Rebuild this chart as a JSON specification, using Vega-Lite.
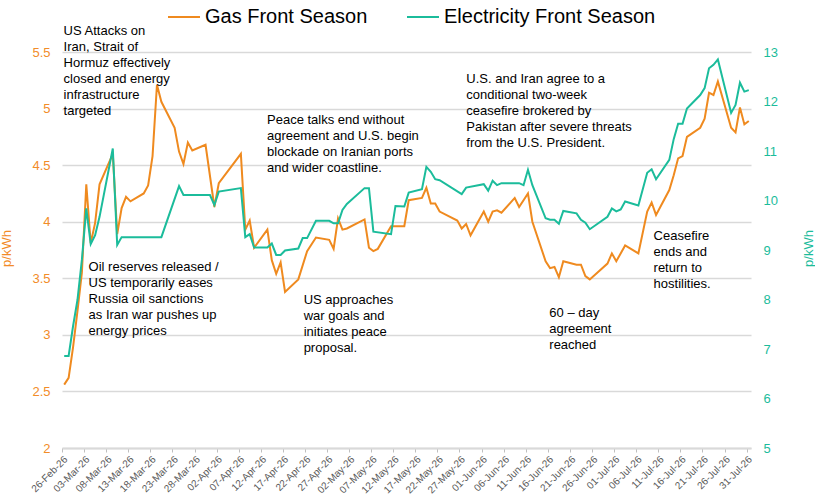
{
  "$schema": "https://vega.github.io/schema/vega-lite/v6.json",
  "autosize": "none",
  "width": 689,
  "height": 396,
  "padding": {"left": 62, "top": 52, "right": 64, "bottom": 50},
  "datasets": {
    "gas": [
      {"date": "2026-02-26T12:00:00", "value": 2.56},
      {"date": "2026-02-27T12:00:00", "value": 2.62},
      {"date": "2026-02-28T12:00:00", "value": 2.89},
      {"date": "2026-03-01T12:00:00", "value": 3.21},
      {"date": "2026-03-02T12:00:00", "value": 3.55},
      {"date": "2026-03-03T12:00:00", "value": 4.33},
      {"date": "2026-03-04T12:00:00", "value": 3.81},
      {"date": "2026-03-05T12:00:00", "value": 3.99},
      {"date": "2026-03-06T12:00:00", "value": 4.33},
      {"date": "2026-03-09T12:00:00", "value": 4.60},
      {"date": "2026-03-10T12:00:00", "value": 3.89},
      {"date": "2026-03-11T12:00:00", "value": 4.12},
      {"date": "2026-03-12T12:00:00", "value": 4.22},
      {"date": "2026-03-13T12:00:00", "value": 4.18},
      {"date": "2026-03-16T12:00:00", "value": 4.25},
      {"date": "2026-03-17T12:00:00", "value": 4.32},
      {"date": "2026-03-18T12:00:00", "value": 4.58},
      {"date": "2026-03-19T12:00:00", "value": 5.21},
      {"date": "2026-03-20T12:00:00", "value": 5.06},
      {"date": "2026-03-23T12:00:00", "value": 4.83},
      {"date": "2026-03-24T12:00:00", "value": 4.62},
      {"date": "2026-03-25T12:00:00", "value": 4.51},
      {"date": "2026-03-26T12:00:00", "value": 4.70},
      {"date": "2026-03-27T12:00:00", "value": 4.63},
      {"date": "2026-03-30T12:00:00", "value": 4.68},
      {"date": "2026-04-01T12:00:00", "value": 4.13},
      {"date": "2026-04-02T12:00:00", "value": 4.34},
      {"date": "2026-04-07T12:00:00", "value": 4.60},
      {"date": "2026-04-08T12:00:00", "value": 3.93},
      {"date": "2026-04-09T12:00:00", "value": 4.01},
      {"date": "2026-04-10T12:00:00", "value": 3.77},
      {"date": "2026-04-13T12:00:00", "value": 3.93},
      {"date": "2026-04-14T12:00:00", "value": 3.66},
      {"date": "2026-04-15T12:00:00", "value": 3.54},
      {"date": "2026-04-16T12:00:00", "value": 3.64},
      {"date": "2026-04-17T12:00:00", "value": 3.38},
      {"date": "2026-04-20T12:00:00", "value": 3.49},
      {"date": "2026-04-22T12:00:00", "value": 3.74},
      {"date": "2026-04-24T12:00:00", "value": 3.86},
      {"date": "2026-04-27T12:00:00", "value": 3.84},
      {"date": "2026-04-28T12:00:00", "value": 3.76},
      {"date": "2026-04-29T12:00:00", "value": 4.03},
      {"date": "2026-04-30T12:00:00", "value": 3.93},
      {"date": "2026-05-01T12:00:00", "value": 3.94},
      {"date": "2026-05-05T12:00:00", "value": 4.02},
      {"date": "2026-05-06T12:00:00", "value": 3.77},
      {"date": "2026-05-07T12:00:00", "value": 3.74},
      {"date": "2026-05-08T12:00:00", "value": 3.76},
      {"date": "2026-05-11T12:00:00", "value": 3.96},
      {"date": "2026-05-12T12:00:00", "value": 3.96},
      {"date": "2026-05-14T12:00:00", "value": 3.96},
      {"date": "2026-05-15T12:00:00", "value": 4.19},
      {"date": "2026-05-18T12:00:00", "value": 4.21},
      {"date": "2026-05-19T12:00:00", "value": 4.30},
      {"date": "2026-05-20T12:00:00", "value": 4.16},
      {"date": "2026-05-21T12:00:00", "value": 4.16},
      {"date": "2026-05-22T12:00:00", "value": 4.09},
      {"date": "2026-05-26T12:00:00", "value": 4.01},
      {"date": "2026-05-27T12:00:00", "value": 3.94},
      {"date": "2026-05-28T12:00:00", "value": 3.98},
      {"date": "2026-05-29T12:00:00", "value": 3.88},
      {"date": "2026-06-01T12:00:00", "value": 4.09},
      {"date": "2026-06-02T12:00:00", "value": 4.00},
      {"date": "2026-06-03T12:00:00", "value": 4.09},
      {"date": "2026-06-04T12:00:00", "value": 4.10},
      {"date": "2026-06-05T12:00:00", "value": 4.08},
      {"date": "2026-06-08T12:00:00", "value": 4.21},
      {"date": "2026-06-09T12:00:00", "value": 4.13},
      {"date": "2026-06-11T12:00:00", "value": 4.25},
      {"date": "2026-06-12T12:00:00", "value": 4.00},
      {"date": "2026-06-15T12:00:00", "value": 3.65},
      {"date": "2026-06-16T12:00:00", "value": 3.59},
      {"date": "2026-06-17T12:00:00", "value": 3.60},
      {"date": "2026-06-18T12:00:00", "value": 3.51},
      {"date": "2026-06-19T12:00:00", "value": 3.65},
      {"date": "2026-06-22T12:00:00", "value": 3.62},
      {"date": "2026-06-23T12:00:00", "value": 3.62},
      {"date": "2026-06-24T12:00:00", "value": 3.52},
      {"date": "2026-06-25T12:00:00", "value": 3.49},
      {"date": "2026-06-29T12:00:00", "value": 3.63},
      {"date": "2026-06-30T12:00:00", "value": 3.72},
      {"date": "2026-07-01T12:00:00", "value": 3.65},
      {"date": "2026-07-03T12:00:00", "value": 3.79},
      {"date": "2026-07-06T12:00:00", "value": 3.72},
      {"date": "2026-07-08T12:00:00", "value": 4.09},
      {"date": "2026-07-09T12:00:00", "value": 4.17},
      {"date": "2026-07-10T12:00:00", "value": 4.06},
      {"date": "2026-07-13T12:00:00", "value": 4.28},
      {"date": "2026-07-14T12:00:00", "value": 4.41},
      {"date": "2026-07-15T12:00:00", "value": 4.56},
      {"date": "2026-07-16T12:00:00", "value": 4.58},
      {"date": "2026-07-17T12:00:00", "value": 4.75},
      {"date": "2026-07-20T12:00:00", "value": 4.83},
      {"date": "2026-07-21T12:00:00", "value": 4.91},
      {"date": "2026-07-22T12:00:00", "value": 5.14},
      {"date": "2026-07-23T12:00:00", "value": 5.12},
      {"date": "2026-07-24T12:00:00", "value": 5.24},
      {"date": "2026-07-27T12:00:00", "value": 4.83},
      {"date": "2026-07-28T12:00:00", "value": 4.79},
      {"date": "2026-07-29T12:00:00", "value": 5.01},
      {"date": "2026-07-30T12:00:00", "value": 4.86},
      {"date": "2026-07-31T12:00:00", "value": 4.89}
    ],
    "electricity": [
      {"date": "2026-02-26T12:00:00", "value": 6.86},
      {"date": "2026-02-27T12:00:00", "value": 6.86},
      {"date": "2026-02-28T12:00:00", "value": 7.46},
      {"date": "2026-03-01T12:00:00", "value": 7.99},
      {"date": "2026-03-02T12:00:00", "value": 8.80},
      {"date": "2026-03-03T12:00:00", "value": 9.84},
      {"date": "2026-03-04T12:00:00", "value": 9.12},
      {"date": "2026-03-05T12:00:00", "value": 9.30},
      {"date": "2026-03-06T12:00:00", "value": 9.67},
      {"date": "2026-03-09T12:00:00", "value": 11.05},
      {"date": "2026-03-10T12:00:00", "value": 9.10},
      {"date": "2026-03-11T12:00:00", "value": 9.26},
      {"date": "2026-03-20T12:00:00", "value": 9.26},
      {"date": "2026-03-24T12:00:00", "value": 10.29},
      {"date": "2026-03-25T12:00:00", "value": 10.11},
      {"date": "2026-03-31T12:00:00", "value": 10.11},
      {"date": "2026-04-01T12:00:00", "value": 9.91},
      {"date": "2026-04-02T12:00:00", "value": 10.18},
      {"date": "2026-04-07T12:00:00", "value": 10.25},
      {"date": "2026-04-08T12:00:00", "value": 9.26},
      {"date": "2026-04-09T12:00:00", "value": 9.32},
      {"date": "2026-04-10T12:00:00", "value": 9.05},
      {"date": "2026-04-13T12:00:00", "value": 9.05},
      {"date": "2026-04-14T12:00:00", "value": 9.13},
      {"date": "2026-04-15T12:00:00", "value": 8.90},
      {"date": "2026-04-16T12:00:00", "value": 8.90},
      {"date": "2026-04-17T12:00:00", "value": 8.99},
      {"date": "2026-04-20T12:00:00", "value": 9.03},
      {"date": "2026-04-21T12:00:00", "value": 9.24},
      {"date": "2026-04-22T12:00:00", "value": 9.24},
      {"date": "2026-04-24T12:00:00", "value": 9.59},
      {"date": "2026-04-27T12:00:00", "value": 9.59},
      {"date": "2026-04-28T12:00:00", "value": 9.54},
      {"date": "2026-04-29T12:00:00", "value": 9.54},
      {"date": "2026-04-30T12:00:00", "value": 9.81},
      {"date": "2026-05-01T12:00:00", "value": 9.93},
      {"date": "2026-05-05T12:00:00", "value": 10.25},
      {"date": "2026-05-06T12:00:00", "value": 10.25},
      {"date": "2026-05-07T12:00:00", "value": 9.37},
      {"date": "2026-05-11T12:00:00", "value": 9.32},
      {"date": "2026-05-12T12:00:00", "value": 9.89},
      {"date": "2026-05-14T12:00:00", "value": 9.88},
      {"date": "2026-05-15T12:00:00", "value": 10.16},
      {"date": "2026-05-18T12:00:00", "value": 10.23},
      {"date": "2026-05-19T12:00:00", "value": 10.68},
      {"date": "2026-05-20T12:00:00", "value": 10.58},
      {"date": "2026-05-21T12:00:00", "value": 10.43},
      {"date": "2026-05-22T12:00:00", "value": 10.41},
      {"date": "2026-05-27T12:00:00", "value": 10.13},
      {"date": "2026-05-28T12:00:00", "value": 10.26},
      {"date": "2026-06-01T12:00:00", "value": 10.33},
      {"date": "2026-06-02T12:00:00", "value": 10.20},
      {"date": "2026-06-03T12:00:00", "value": 10.40},
      {"date": "2026-06-04T12:00:00", "value": 10.31},
      {"date": "2026-06-05T12:00:00", "value": 10.35},
      {"date": "2026-06-09T12:00:00", "value": 10.35},
      {"date": "2026-06-10T12:00:00", "value": 10.31},
      {"date": "2026-06-11T12:00:00", "value": 10.62},
      {"date": "2026-06-12T12:00:00", "value": 10.31},
      {"date": "2026-06-15T12:00:00", "value": 9.64},
      {"date": "2026-06-16T12:00:00", "value": 9.61},
      {"date": "2026-06-17T12:00:00", "value": 9.61},
      {"date": "2026-06-18T12:00:00", "value": 9.53},
      {"date": "2026-06-19T12:00:00", "value": 9.79},
      {"date": "2026-06-22T12:00:00", "value": 9.74},
      {"date": "2026-06-23T12:00:00", "value": 9.61},
      {"date": "2026-06-24T12:00:00", "value": 9.55},
      {"date": "2026-06-25T12:00:00", "value": 9.42},
      {"date": "2026-06-29T12:00:00", "value": 9.67},
      {"date": "2026-06-30T12:00:00", "value": 9.84},
      {"date": "2026-07-01T12:00:00", "value": 9.78},
      {"date": "2026-07-02T12:00:00", "value": 9.82},
      {"date": "2026-07-03T12:00:00", "value": 9.98},
      {"date": "2026-07-06T12:00:00", "value": 9.90},
      {"date": "2026-07-08T12:00:00", "value": 10.56},
      {"date": "2026-07-09T12:00:00", "value": 10.63},
      {"date": "2026-07-10T12:00:00", "value": 10.43},
      {"date": "2026-07-13T12:00:00", "value": 10.82},
      {"date": "2026-07-14T12:00:00", "value": 11.24},
      {"date": "2026-07-15T12:00:00", "value": 11.55},
      {"date": "2026-07-16T12:00:00", "value": 11.55},
      {"date": "2026-07-17T12:00:00", "value": 11.86},
      {"date": "2026-07-20T12:00:00", "value": 12.13},
      {"date": "2026-07-21T12:00:00", "value": 12.27},
      {"date": "2026-07-22T12:00:00", "value": 12.67},
      {"date": "2026-07-23T12:00:00", "value": 12.74},
      {"date": "2026-07-24T12:00:00", "value": 12.85},
      {"date": "2026-07-27T12:00:00", "value": 11.77},
      {"date": "2026-07-28T12:00:00", "value": 11.93},
      {"date": "2026-07-29T12:00:00", "value": 12.38},
      {"date": "2026-07-30T12:00:00", "value": 12.20},
      {"date": "2026-07-31T12:00:00", "value": 12.23}
    ],
    "notes": [
      {"date": "2026-02-26T08:40:00", "value": 5.649, "note": ["US Attacks on", "Iran, Strait of", "Hormuz effectively", "closed and energy", "infrastructure", "targeted"]},
      {"date": "2026-03-04T00:30:00", "value": 3.563, "note": ["Oil reserves released /", "US temporarily eases", "Russia oil sanctions", "as Iran war pushes up", "energy prices"]},
      {"date": "2026-04-13T10:00:00", "value": 4.868, "note": ["Peace talks end without", "agreement and U.S. begin", "blockade on Iranian ports", "and wider coastline."]},
      {"date": "2026-04-21T17:00:00", "value": 3.27, "note": ["US approaches", "war goals and", "initiates peace", "proposal."]},
      {"date": "2026-05-28T13:00:00", "value": 5.23, "note": ["U.S. and Iran agree to a", "conditional two-week", "ceasefire brokered by", "Pakistan after severe threats", "from the U.S. President."]},
      {"date": "2026-06-16T08:00:00", "value": 3.16, "note": ["60 \u2013 day", "agreement", "reached"]},
      {"date": "2026-07-09T22:30:00", "value": 3.838, "note": ["Ceasefire", "ends and", "return to", "hostilities."]}
    ]
  },
  "layer": [
    {
      "layer": [
        {
          "data": {"name": "gas"},
          "mark": {"type": "line", "strokeWidth": 2},
          "encoding": {
            "x": {
              "field": "date", "type": "temporal", "title": null,
              "scale": {"domain": [{"year": 2026, "month": 2, "date": 26}, {"year": 2026, "month": 8, "date": 1}]},
              "axis": {
                "values": [
                  {"year": 2026, "month": 2, "date": 26}, {"year": 2026, "month": 3, "date": 3},
                  {"year": 2026, "month": 3, "date": 8}, {"year": 2026, "month": 3, "date": 13},
                  {"year": 2026, "month": 3, "date": 18}, {"year": 2026, "month": 3, "date": 23},
                  {"year": 2026, "month": 3, "date": 28}, {"year": 2026, "month": 4, "date": 2},
                  {"year": 2026, "month": 4, "date": 7}, {"year": 2026, "month": 4, "date": 12},
                  {"year": 2026, "month": 4, "date": 17}, {"year": 2026, "month": 4, "date": 22},
                  {"year": 2026, "month": 4, "date": 27}, {"year": 2026, "month": 5, "date": 2},
                  {"year": 2026, "month": 5, "date": 7}, {"year": 2026, "month": 5, "date": 12},
                  {"year": 2026, "month": 5, "date": 17}, {"year": 2026, "month": 5, "date": 22},
                  {"year": 2026, "month": 5, "date": 27}, {"year": 2026, "month": 6, "date": 1},
                  {"year": 2026, "month": 6, "date": 6}, {"year": 2026, "month": 6, "date": 11},
                  {"year": 2026, "month": 6, "date": 16}, {"year": 2026, "month": 6, "date": 21},
                  {"year": 2026, "month": 6, "date": 26}, {"year": 2026, "month": 7, "date": 1},
                  {"year": 2026, "month": 7, "date": 6}, {"year": 2026, "month": 7, "date": 11},
                  {"year": 2026, "month": 7, "date": 16}, {"year": 2026, "month": 7, "date": 21},
                  {"year": 2026, "month": 7, "date": 26}, {"year": 2026, "month": 7, "date": 31}
                ],
                "tickCount": 60,
                "format": "%d-%b-%y",
                "labelOverlap": false,
                "labelAngle": -45,
                "labelAlign": "right",
                "labelBaseline": "top"
              }
            },
            "y": {
              "field": "value", "type": "quantitative", "title": "p/kWh",
              "scale": {"domain": [2, 5.5], "nice": false, "zero": false},
              "axis": {
                "values": [2, 2.5, 3, 3.5, 4, 4.5, 5, 5.5],
                "format": "~g",
                "domain": false,
                "ticks": false,
                "grid": true,
                "gridColor": "#D9D9D9",
                "gridWidth": 1.5,
                "labelColor": "#F28C28",
                "labelFontSize": 13,
                "labelPadding": 12,
                "titleColor": "#F28C28",
                "titleFontSize": 13,
                "titleFontWeight": "normal",
                "titleAngle": -90,
                "titleX": -56,
                "titleY": 196,
                "titleAlign": "center",
                "titleBaseline": "middle"
              }
            },
            "color": {
              "datum": "Gas Front Season",
              "scale": {"domain": ["Gas Front Season", "Electricity Front Season"], "range": ["#EF8A1F", "#1BBC9B"]},
              "legend": {
                "title": null,
                "orient": "none",
                "direction": "horizontal",
                "legendX": 105,
                "legendY": -52,
                "padding": 0,
                "symbolType": "stroke",
                "symbolSize": 1024,
                "symbolStrokeWidth": 2,
                "labelFontSize": 20,
                "labelColor": "#000000",
                "labelOffset": 4,
                "columnPadding": 35,
                "labelLimit": 400
              }
            }
          }
        },
        {
          "data": {"name": "notes"},
          "mark": {"type": "text", "align": "left", "baseline": "alphabetic", "fontSize": 13, "lineHeight": 16, "color": "#000000"},
          "encoding": {
            "x": {"field": "date", "type": "temporal", "title": null,
              "scale": {"domain": [{"year": 2026, "month": 2, "date": 26}, {"year": 2026, "month": 8, "date": 1}]}},
            "y": {"field": "value", "type": "quantitative", "title": "p/kWh",
              "scale": {"domain": [2, 5.5], "nice": false, "zero": false}},
            "text": {"field": "note"}
          }
        }
      ]
    },
    {
      "data": {"name": "electricity"},
      "mark": {"type": "line", "strokeWidth": 2},
      "encoding": {
        "x": {"field": "date", "type": "temporal", "title": null,
          "scale": {"domain": [{"year": 2026, "month": 2, "date": 26}, {"year": 2026, "month": 8, "date": 1}]}},
        "y": {
          "field": "value", "type": "quantitative", "title": "p/kWh",
          "scale": {"domain": [5, 13], "nice": false, "zero": false},
          "axis": {
            "orient": "right",
            "values": [5, 6, 7, 8, 9, 10, 11, 12, 13],
            "domain": false,
            "ticks": false,
            "grid": false,
            "labelColor": "#1BBC9B",
            "labelFontSize": 13,
            "labelPadding": 12,
            "titleColor": "#1BBC9B",
            "titleFontSize": 13,
            "titleFontWeight": "normal",
            "titleAngle": -90,
            "titleX": 57,
            "titleY": 196,
            "titleAlign": "center",
            "titleBaseline": "middle"
          }
        },
        "color": {"datum": "Electricity Front Season"}
      }
    }
  ],
  "resolve": {"scale": {"y": "independent"}},
  "config": {
    "font": "Liberation Sans",
    "view": {"stroke": null},
    "axisX": {
      "labelFontSize": 10,
      "labelColor": "#595959",
      "labelPadding": 2,
      "labelFlush": false,
      "labelBound": false,
      "labelOverlap": false,
      "grid": false,
      "domainColor": "#D9D9D9",
      "domainWidth": 2,
      "tickColor": "#BFBFBF",
      "tickSize": 4
    }
  }
}
